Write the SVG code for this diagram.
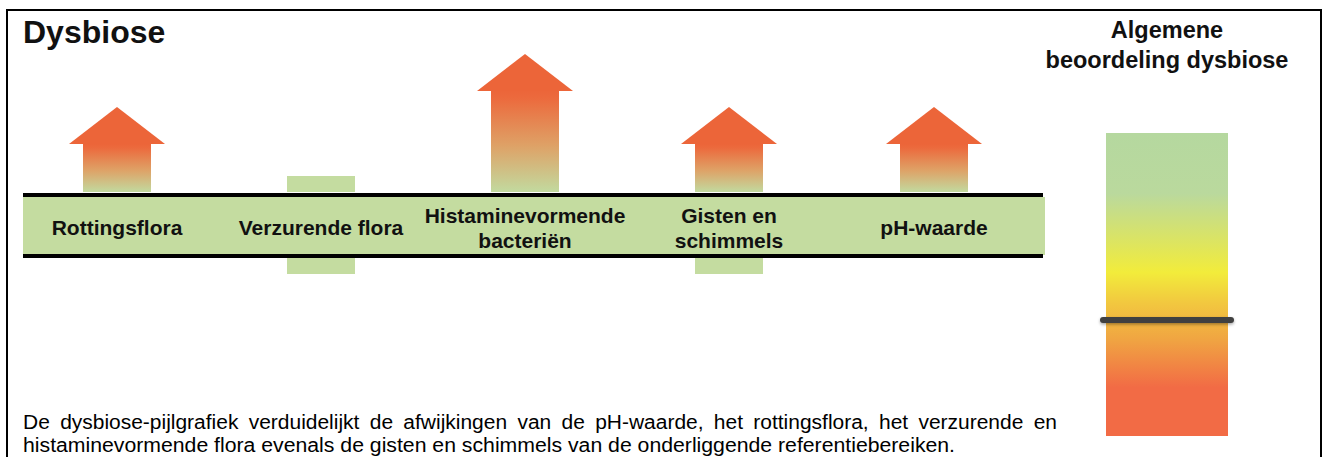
<svg xmlns="http://www.w3.org/2000/svg" width="1324" height="457" viewBox="0 0 1324 457">
<defs>
<linearGradient id="shaft" x1="0" y1="0" x2="0" y2="1">
<stop offset="0" stop-color="#EC6539"/>
<stop offset="0.08" stop-color="#EC6A3D"/>
<stop offset="0.55" stop-color="#DEA267"/>
<stop offset="1" stop-color="#C2DA9F"/>
</linearGradient>
<linearGradient id="scale" x1="0" y1="0" x2="0" y2="1">
<stop offset="0" stop-color="#B5D89F"/>
<stop offset="0.2" stop-color="#BAD99D"/>
<stop offset="0.46" stop-color="#F2EC3B"/>
<stop offset="0.56" stop-color="#F2C83F"/>
<stop offset="0.68" stop-color="#F0A542"/>
<stop offset="0.84" stop-color="#F26B45"/>
<stop offset="1" stop-color="#F26B45"/>
</linearGradient>
<filter id="shadow" x="-10%" y="-100%" width="120%" height="300%">
<feDropShadow dx="0" dy="1.5" stdDeviation="1.5" flood-color="#000" flood-opacity="0.35"/>
</filter>
</defs>
<style>
text{font-family:"Liberation Sans",Arial,sans-serif;fill:#111;}
.lbl{font-size:21px;font-weight:bold;text-anchor:middle;}
.head{fill:#EC6539;}
.shaft{fill:url(#shaft);}
.blk{fill:#C4DCA0;}
.para{font-size:20px;fill:#000;}
</style>
<rect x="7" y="10" width="1314" height="470" fill="#fff" stroke="#000" stroke-width="2"/>
<text x="23" y="43" font-size="32" font-weight="bold" fill="#000">Dysbiose</text>

<g id="bar">
<rect x="23" y="197" width="1022" height="58" fill="#C4DCA0"/>
<line x1="23" y1="195" x2="1043" y2="195" stroke="#000" stroke-width="4"/>
<line x1="23" y1="256" x2="1043" y2="256" stroke="#000" stroke-width="4"/>
</g>

<g id="rottingsflora">
<rect class="shaft" x="83" y="144" width="68" height="48"/>
<polygon class="head" points="69,144 117,107 165,144"/>
<text class="lbl" x="117" y="235">Rottingsflora</text>
</g>

<g id="verzurende-flora">
<rect class="blk" x="287" y="176" width="68" height="16"/>
<rect class="blk" x="287" y="258" width="68" height="16"/>
<text class="lbl" x="321" y="235">Verzurende flora</text>
</g>

<g id="histaminevormende-bacterien">
<rect class="shaft" x="491" y="90" width="68" height="102"/>
<polygon class="head" points="477,91 525,54 573,91"/>
<text class="lbl" x="525" y="223">Histaminevormende</text>
<text class="lbl" x="525" y="248">bacteriën</text>
</g>

<g id="gisten-en-schimmels">
<rect class="shaft" x="695" y="144" width="68" height="48"/>
<polygon class="head" points="681,144 729,107 777,144"/>
<rect class="blk" x="695" y="258" width="68" height="16"/>
<text class="lbl" x="729" y="223">Gisten en</text>
<text class="lbl" x="729" y="248">schimmels</text>
</g>

<g id="ph-waarde">
<rect class="shaft" x="900" y="144" width="68" height="48"/>
<polygon class="head" points="886,144 934,107 982,144"/>
<text class="lbl" x="934" y="235">pH-waarde</text>
</g>

<g id="algemene-beoordeling">
<text x="1167" y="38" font-size="23.5" font-weight="bold" text-anchor="middle">Algemene</text>
<text x="1167" y="68" font-size="23.5" font-weight="bold" text-anchor="middle">beoordeling dysbiose</text>
<rect x="1106" y="133" width="122" height="303" fill="url(#scale)"/>
<rect x="1100" y="317" width="134" height="6" rx="3" fill="#404040" filter="url(#shadow)"/>
</g>

<g id="beschrijving">
<text class="para" x="23" y="429" word-spacing="4.3" textLength="1034" lengthAdjust="spacingAndGlyphs">De dysbiose-pijlgrafiek verduidelijkt de afwijkingen van de pH-waarde, het rottingsflora, het verzurende en</text>
<text class="para" x="23" y="452" textLength="932" lengthAdjust="spacingAndGlyphs">histaminevormende flora evenals de gisten en schimmels van de onderliggende referentiebereiken.</text>
</g>
</svg>
